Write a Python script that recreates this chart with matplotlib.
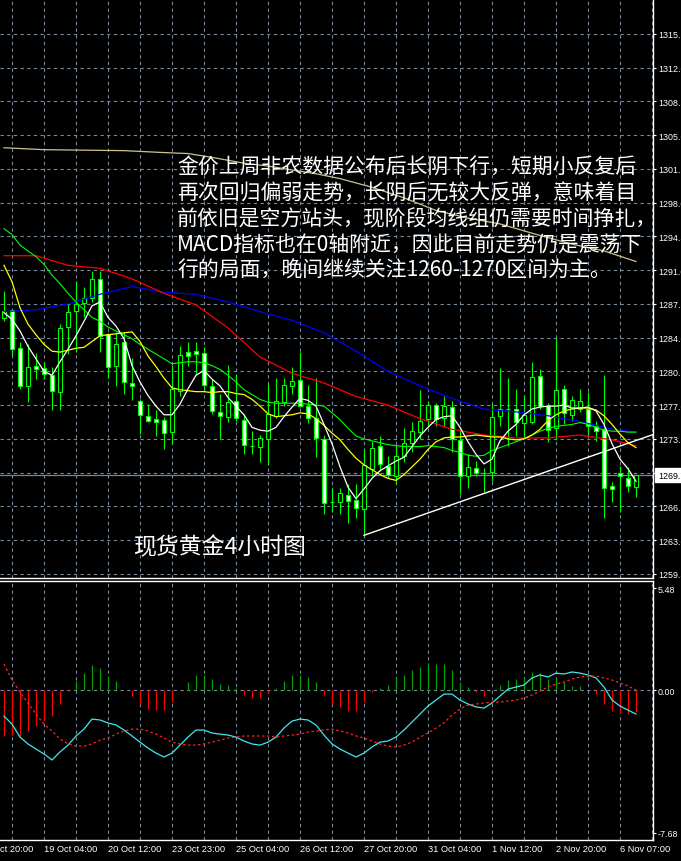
import matplotlib
matplotlib.use('Agg')
import matplotlib.pyplot as plt
import matplotlib.transforms as mtransforms
from matplotlib.patches import Rectangle

plt.rcParams['font.family'] = ['Noto Sans CJK SC', 'DejaVu Sans']

# XAUUSD H4, oldest first
opens = [1286.0, 1286.9, 1282.9, 1279.0, 1281.1, 1280.9, 1280.1, 1278.4, 1285.1, 1286.8,
         1287.6, 1288.1, 1290.1, 1284.4, 1281.1, 1283.5, 1279.3, 1277.4, 1275.9, 1275.6,
         1275.5, 1274.2, 1278.5, 1282.5, 1282.6, 1282.4, 1279.0, 1276.3, 1275.8, 1277.4,
         1275.5, 1272.8, 1272.7, 1273.5, 1275.9, 1277.3, 1279.0, 1279.6, 1276.9, 1275.7,
         1273.5, 1267.0, 1267.0, 1267.7, 1267.2, 1266.2, 1270.4, 1272.8, 1270.7, 1269.7,
         1271.7, 1273.1, 1274.2, 1275.6, 1277.0, 1275.7, 1276.8, 1273.4, 1269.7, 1270.5,
         1270.0, 1270.1, 1275.9, 1276.6, 1276.6, 1275.2, 1275.3, 1280.0, 1276.9, 1274.6,
         1278.7, 1276.0, 1276.6, 1276.6, 1274.8, 1274.5, 1268.6, 1270.0, 1269.4, 1268.5]
highs = [1288.8, 1287.0, 1283.6, 1283.3, 1282.4, 1281.5, 1281.0, 1285.4, 1287.6, 1289.9,
         1289.3, 1290.9, 1290.9, 1284.5, 1284.6, 1284.6, 1281.9, 1277.6, 1277.1, 1276.5,
         1275.8, 1281.2, 1283.1, 1283.5, 1283.6, 1283.0, 1279.7, 1278.2, 1281.2, 1280.2,
         1276.1, 1274.3, 1273.9, 1279.2, 1279.8, 1279.8, 1281.0, 1282.5, 1279.1, 1279.8,
         1273.9, 1268.4, 1268.4, 1268.8, 1268.8, 1272.5, 1273.3, 1273.8, 1271.7, 1272.9,
         1274.6, 1275.3, 1278.6, 1277.4, 1277.2, 1277.9, 1277.4, 1274.7, 1271.9, 1271.2,
         1270.5, 1277.1, 1280.9, 1279.8, 1278.7, 1277.9, 1281.5, 1280.8, 1277.2, 1284.0,
         1279.1, 1278.0, 1278.7, 1278.4, 1275.4, 1280.1, 1269.0, 1270.7, 1270.6, 1269.7]
lows = [1285.7, 1282.2, 1278.7, 1277.3, 1279.7, 1279.7, 1276.5, 1276.5, 1282.3, 1282.5,
        1286.1, 1287.7, 1282.5, 1279.8, 1279.0, 1278.2, 1277.5, 1274.0, 1275.3, 1273.8,
        1272.4, 1273.1, 1278.0, 1281.1, 1280.1, 1278.6, 1276.1, 1273.5, 1275.3, 1275.4,
        1271.9, 1271.9, 1271.1, 1270.8, 1275.7, 1276.9, 1278.2, 1276.8, 1275.2, 1271.6,
        1265.7, 1265.9, 1265.7, 1264.8, 1265.3, 1263.5, 1269.7, 1270.2, 1269.4, 1268.8,
        1271.1, 1272.1, 1273.5, 1274.7, 1274.8, 1274.7, 1272.1, 1267.8, 1268.4, 1269.6,
        1268.0, 1269.1, 1274.8, 1272.8, 1273.8, 1273.8, 1275.0, 1276.6, 1273.2, 1273.5,
        1275.0, 1275.4, 1276.3, 1273.7, 1273.3, 1265.3, 1267.0, 1265.9, 1268.0, 1267.5]
closes = [1286.8, 1282.8, 1279.0, 1281.0, 1280.8, 1280.2, 1278.5, 1285.0, 1286.7, 1287.5,
          1288.1, 1290.1, 1284.2, 1281.0, 1283.3, 1279.4, 1279.0, 1276.0, 1275.4, 1275.3,
          1274.1, 1278.7, 1282.2, 1282.1, 1282.3, 1279.1, 1276.4, 1275.9, 1277.3, 1275.7,
          1272.9, 1272.7, 1273.6, 1276.1, 1277.4, 1279.1, 1279.5, 1276.9, 1275.7, 1273.6,
          1266.9, 1266.9, 1267.9, 1267.1, 1266.3, 1270.8, 1272.6, 1270.9, 1269.8, 1271.7,
          1273.1, 1274.3, 1275.4, 1277.0, 1275.6, 1276.9, 1273.5, 1269.7, 1270.6, 1270.0,
          1270.0, 1275.8, 1276.6, 1276.5, 1275.3, 1276.0, 1279.9, 1276.9, 1274.4, 1278.6,
          1276.2, 1277.5, 1277.4, 1274.8, 1274.3, 1268.4, 1268.3, 1269.6, 1268.6, 1269.75]

ma_white = [1286.6, 1285.9, 1284.7, 1283.1, 1281.8, 1280.5, 1280.1, 1281.5, 1282.8, 1284.2,
            1285.7, 1287.3, 1287.7, 1286.1, 1285.2, 1283.9, 1281.1, 1279.4, 1278.0, 1276.9,
            1276.0, 1276.0, 1277.1, 1278.7, 1280.1, 1280.6, 1279.7, 1279.0, 1277.8, 1276.9,
            1276.0, 1274.7, 1274.4, 1274.3, 1274.7, 1275.8, 1276.8, 1277.7, 1277.5, 1276.9,
            1275.0, 1273.0, 1270.6, 1268.5, 1267.3, 1268.3, 1269.4, 1270.2, 1270.7, 1271.2,
            1271.6, 1272.7, 1273.8, 1274.7, 1275.5, 1275.8, 1275.9, 1274.7, 1273.2, 1271.9,
            1270.9, 1271.4, 1273.3, 1274.3, 1275.0, 1276.0, 1276.6, 1276.8, 1276.9, 1276.9,
            1277.0, 1276.7, 1276.7, 1276.8, 1276.4, 1275.0, 1273.0, 1271.4, 1270.4, 1269.1]
ma_yellow = [1291.5, 1289.8, 1287.1, 1285.4, 1284.3, 1283.3, 1282.6, 1282.5, 1282.7, 1282.9,
             1283.0, 1283.6, 1284.2, 1284.3, 1284.4, 1284.5, 1284.6, 1283.6, 1282.1, 1281.0,
             1279.8, 1278.8, 1278.6, 1278.5, 1278.4, 1278.4, 1278.3, 1278.4, 1278.4, 1278.2,
             1278.1, 1277.6, 1276.9, 1276.1, 1275.8, 1275.9, 1276.0, 1276.2, 1276.1, 1275.6,
             1274.9, 1274.1, 1273.4, 1272.4, 1271.5, 1270.8, 1270.3, 1269.8, 1269.4, 1269.2,
             1269.8, 1270.6, 1271.4, 1272.4, 1273.2, 1273.6, 1273.7, 1273.7, 1273.8, 1273.9,
             1273.8, 1273.7, 1273.7, 1273.5, 1273.4, 1273.5, 1273.9, 1274.5, 1275.4, 1276.0,
             1276.4, 1276.6, 1276.7, 1276.7, 1276.5, 1275.9, 1275.0, 1274.0, 1273.1, 1272.6]
ma_green = [1295.3, 1294.7, 1293.6, 1293.0, 1292.4, 1291.6, 1290.5, 1289.6, 1288.6, 1287.7,
            1286.9, 1286.1, 1285.7, 1285.1, 1284.7, 1284.3, 1283.9, 1283.3, 1282.8, 1282.3,
            1281.8, 1281.3, 1281.4, 1281.5, 1281.5, 1281.4, 1281.1, 1280.7, 1280.1, 1279.4,
            1278.6, 1278.1, 1277.6, 1277.3, 1277.2, 1277.2, 1277.2, 1277.2, 1277.1, 1277.0,
            1276.9, 1276.2, 1275.5, 1274.6, 1273.8, 1273.5, 1273.3, 1273.1, 1272.9, 1272.8,
            1272.7, 1272.7, 1272.7, 1272.8, 1272.7, 1272.6, 1272.3, 1272.1, 1271.8, 1271.7,
            1271.8, 1272.3, 1272.6, 1272.9, 1273.2, 1273.5, 1273.9, 1274.3, 1274.6, 1274.8,
            1274.9, 1275.0, 1275.2, 1275.0, 1274.7, 1274.4, 1274.3, 1274.3, 1274.2, 1274.2]
slow_idx = [0, 4, 8, 12, 16, 20, 24, 28, 32, 36, 40, 44, 48, 52, 56, 60, 64, 68, 72, 76, 79]
ma_red = [1292.5, 1292.5, 1291.5, 1291.2, 1290.1, 1288.6, 1287.4, 1285.0, 1282.0, 1280.3,
          1279.3, 1277.9, 1277.0, 1275.6, 1274.5, 1273.9, 1273.6, 1273.6, 1273.9, 1273.4, 1272.8]
ma_blue = [1286.7, 1286.9, 1287.5, 1288.5, 1289.3, 1288.7, 1288.5, 1287.7, 1286.7, 1285.8,
           1284.5, 1282.6, 1280.5, 1279.0, 1277.7, 1276.6, 1276.3, 1275.9, 1275.3, 1274.5, 1274.2]
tan_idx = [0, 5, 15, 20, 23, 26, 30, 33, 36, 39, 42, 46, 50, 54, 58, 62, 67, 71, 75, 79]
ma_tan = [1303.7, 1303.5, 1303.4, 1303.2, 1303.1, 1302.7, 1302.1, 1301.8, 1301.4, 1301.0,
          1300.5, 1299.6, 1298.5, 1297.2, 1296.4, 1295.8, 1294.6, 1293.7, 1293.0, 1291.9]
trend_x = [45, 82]
trend_y = [1263.5, 1274.2]

macd_main = [-1.40, -1.83, -2.53, -2.90, -3.17, -3.44, -3.76, -3.33, -2.96, -2.47,
             -2.10, -1.56, -1.61, -1.77, -1.88, -2.15, -2.47, -2.80, -3.12, -3.39,
             -3.60, -3.39, -2.96, -2.53, -2.15, -2.15, -2.31, -2.37, -2.42, -2.53,
             -2.74, -2.90, -2.96, -2.80, -2.53, -2.04, -1.67, -1.56, -1.61, -1.88,
             -2.42, -2.90, -3.17, -3.39, -3.60, -3.39, -3.06, -2.80, -2.74, -2.53,
             -2.15, -1.72, -1.29, -0.86, -0.54, -0.22, -0.22, -0.54, -0.75, -0.91,
             -0.97, -0.70, -0.32, 0.05, 0.16, 0.27, 0.65, 0.81, 0.70, 0.91,
             0.86, 0.97, 0.91, 0.81, 0.65, 0.16, -0.54, -0.86, -1.08, -1.29]
macd_signal = [1.40, 0.54, -0.11, -0.70, -1.29, -1.83, -2.20, -2.63, -2.90, -3.01,
               -3.01, -2.90, -2.69, -2.58, -2.37, -2.20, -2.10, -2.10, -2.20, -2.37,
               -2.58, -2.80, -2.90, -2.96, -2.96, -2.90, -2.80, -2.69, -2.58, -2.53,
               -2.47, -2.47, -2.47, -2.47, -2.53, -2.47, -2.42, -2.37, -2.26, -2.20,
               -2.15, -2.10, -2.20, -2.31, -2.47, -2.58, -2.74, -2.90, -3.01, -3.06,
               -2.96, -2.80, -2.53, -2.31, -2.04, -1.77, -1.34, -1.02, -0.81, -0.75,
               -0.70, -0.65, -0.65, -0.59, -0.54, -0.43, -0.27, -0.05, 0.16, 0.32,
               0.43, 0.59, 0.70, 0.75, 0.75, 0.65, 0.54, 0.38, 0.22, 0.00]
macd_hist = [-2.47, -2.42, -2.47, -2.20, -1.94, -1.67, -1.40, -0.75, -0.05, 0.48,
             0.91, 1.34, 1.18, 0.75, 0.48, 0.02, -0.32, -0.75, -1.02, -1.08,
             -1.08, -0.65, -0.05, 0.43, 0.81, 0.81, 0.59, 0.32, 0.27, 0.11,
             -0.27, -0.43, -0.43, -0.16, 0.11, 0.48, 0.81, 0.81, 0.70, 0.43,
             -0.27, -0.75, -0.91, -1.13, -1.13, -0.65, -0.11, 0.11, 0.27, 0.65,
             0.81, 1.08, 1.24, 1.45, 1.40, 1.40, 1.08, 0.43, 0.16, -0.11,
             -0.32, 0.00, 0.27, 0.54, 0.59, 0.65, 0.97, 0.91, 0.59, 0.65,
             0.43, 0.22, 0.22, 0.00, -0.22, -0.75, -1.13, -1.24, -1.29, -1.18]

price_levels = [1259.5 + 3.5 * k for k in range(17)]
date_pos = [-3, 5, 13, 21, 29, 37, 45, 53, 61, 69, 77]
date_labels = ['17 Oct 20:00', '19 Oct 04:00', '20 Oct 12:00', '23 Oct 23:00', '25 Oct 04:00',
               '26 Oct 12:00', '27 Oct 20:00', '31 Oct 04:00', '1 Nov 12:00', '2 Nov 20:00',
               '6 Nov 07:00']
macd_levels = [5.48, 0.0, -7.68]

note_lines = ['金价上周非农数据公布后长阴下行，短期小反复后',
              '再次回归偏弱走势，长阴后无较大反弹，意味着目',
              '前依旧是空方站头，现阶段均线组仍需要时间挣扎，',
              'MACD指标也在0轴附近，因此目前走势仍是震荡下',
              '行的局面，晚间继续关注1260-1270区间为主。']
title = '现货黄金4小时图'

W, H = 681, 862
GRID = '#778899'
LIME = '#00ff00'
dashed = (0, (3, 3))

fig = plt.figure(figsize=(W / 100, H / 100), dpi=100, facecolor='black')
ax = fig.add_axes([0, 1 - 579 / H, 653 / W, 579 / H], facecolor='black')
mx = fig.add_axes([0, 1 - 841 / H, 653 / W, 259 / H], facecolor='black')

n = len(closes)
idx = list(range(n))

# price window
ax.set_xlim(-0.5, 81.125)
ax.set_ylim(1259.07, 1319.13)
ax.set_xticks(range(1, 82, 4))
ax.set_yticks(price_levels)
ax.set_yticklabels(['%.2f' % v for v in price_levels])
ax.yaxis.tick_right()
ax.tick_params(axis='x', length=0, labelbottom=False)
ax.tick_params(axis='y', colors='white', length=2.5, width=0.8, pad=1, labelsize=6.4,
               labelfontfamily='Liberation Sans')
ax.grid(color=GRID, ls=dashed, lw=0.8)
ax.set_axisbelow(True)
for s in ['left', 'top']:
    ax.spines[s].set_visible(False)
for s in ['right', 'bottom']:
    ax.spines[s].set_color('white')
    ax.spines[s].set_linewidth(1)

ax.axhline(closes[-1], color=GRID, lw=0.9, zorder=1)

for i in idx:
    o, h, l, c = opens[i], highs[i], lows[i], closes[i]
    ax.vlines(i, l, h, color=LIME, lw=0.8, zorder=2)
    if abs(c - o) < 0.15:
        ax.hlines(o, i - 0.3, i + 0.3, color=LIME, lw=0.9, zorder=3)
    else:
        ax.add_patch(Rectangle((i - 0.3, min(o, c)), 0.6, abs(c - o),
                               facecolor='white' if c < o else 'black',
                               edgecolor=LIME, lw=0.8, zorder=3))

ax.plot(tan_idx, ma_tan, color='#cdc38a', lw=0.9, zorder=4)
ax.plot(slow_idx, ma_blue, color='#0000ff', lw=0.9, zorder=4)
ax.plot(slow_idx, ma_red, color='#ff0000', lw=0.9, zorder=4)
ax.plot(idx, ma_green, color=LIME, lw=0.8, zorder=4)
ax.plot(idx, ma_yellow, color='#ffff00', lw=0.9, zorder=4)
ax.plot(idx, ma_white, color='white', lw=0.9, zorder=4)
ax.plot(trend_x, trend_y, color='white', lw=1.0, zorder=5)

# bid label on the price scale
bid_tr = mtransforms.blended_transform_factory(fig.transFigure, ax.transData)
fig.text(658 / W, closes[-1], '%.2f' % closes[-1], transform=bid_tr, color='black',
         fontsize=6.4, family='Liberation Sans', ha='left', va='center',
         bbox=dict(boxstyle='square,pad=0.3', fc='white', ec='white'))

for k, line in enumerate(note_lines):
    fig.text(177 / W, 1 - (168 + 25.75 * k) / H, line, color='white', fontsize=15,
             ha='left', va='center')
fig.text(133 / W, 1 - 548 / H, title, color='white', fontsize=16.5, ha='left', va='center')

# MACD window
mx.set_xlim(-0.5, 81.125)
mx.set_ylim(-8.06, 5.86)
bar_colors = ['#00a000' if v > 0 else '#ff0000' for v in macd_hist]
mx.vlines(idx, 0, macd_hist, colors=bar_colors, lw=0.9, zorder=2)
mx.plot(idx, macd_main, color='#40e8f0', lw=0.9, zorder=3)
mx.plot(idx, macd_signal, color='#ff2020', lw=0.9, ls=(0, (2, 2)), zorder=3)
mx.axhline(0, color=GRID, ls=dashed, lw=0.8, zorder=1)
mx.set_xticks(range(1, 82, 4))
mx.set_xticks(date_pos[1:], minor=True)
mx.grid(axis='x', which='major', color=GRID, ls=dashed, lw=0.8)
mx.set_axisbelow(True)
mx.tick_params(axis='x', which='major', length=0, labelbottom=False)
mx.tick_params(axis='x', which='minor', length=3, width=0.8, color='white', labelbottom=False)
mx.yaxis.tick_right()
mx.set_yticks(macd_levels)
mx.set_yticklabels(['%.2f' % v for v in macd_levels])
mx.tick_params(axis='y', colors='white', length=2.5, width=0.8, pad=1, labelsize=6.4,
               labelfontfamily='Liberation Sans')
mx.spines['left'].set_visible(False)
for s in ['right', 'bottom', 'top']:
    mx.spines[s].set_color('white')
    mx.spines[s].set_linewidth(1)

date_tr = mtransforms.blended_transform_factory(mx.transData, fig.transFigure)
for p, lab in zip(date_pos, date_labels):
    fig.text(p, 1 - 850 / H, lab, transform=date_tr, color='white', fontsize=6.7,
             family='Liberation Sans', ha='left', va='center')

fig.savefig('out.png', dpi=100, facecolor='black')
